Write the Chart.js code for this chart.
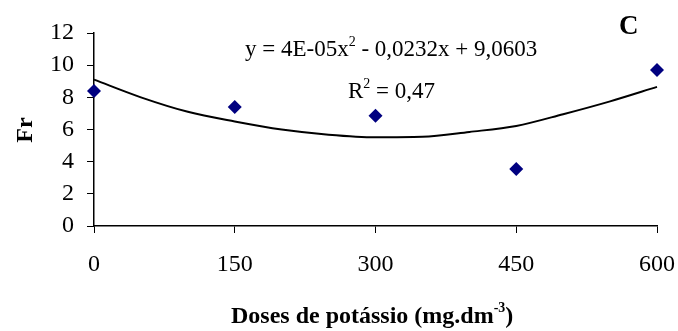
<!DOCTYPE html>
<html>
<head>
<meta charset="utf-8">
<script src="https://cdn.jsdelivr.net/npm/chart.js@4"></script>
<style>
  html, body { margin: 0; padding: 0; background: #fff; }
  #wrap { width: 678px; height: 331px; position: relative; }
</style>
</head>
<body>
<div id="wrap"><canvas id="c"></canvas></div>
<script>
// observed points
let doses = [0, 150, 300, 450, 600];
let frValues = [8.4, 7.4, 6.85, 3.55, 9.7];

// trend curve
let trendX = [0, 50, 100, 150, 200, 250, 300, 350, 400, 450, 500, 550, 600];
let trendY = [9.1, 8.0, 7.1, 6.5, 6.0, 5.68, 5.52, 5.55, 5.85, 6.22, 6.95, 7.75, 8.65];

let yTicks = [0, 2, 4, 6, 8, 10, 12];
let xTicks = [0, 150, 300, 450, 600];

const serif = "'Liberation Serif', 'Times New Roman', serif";

function toPoints(xs, ys) {
    return xs.map((x, i) => ({ x: x, y: ys[i] }));
}

// draws text pieces with superscripts
function drawRich(ctx, parts, x, y, size, bold) {
    let cx = x;
    parts.forEach(p => {
        let s = p.sup ? Math.round(size * 0.6) : size;
        ctx.font = (bold ? 'bold ' : '') + s + 'px ' + serif;
        ctx.fillText(p.t, cx, p.sup ? y - size * 0.45 : y);
        cx += ctx.measureText(p.t).width;
    });
}

const textPlugin = {
    id: 'texts',
    afterDraw(chart) {
        const ctx = chart.ctx;
        ctx.save();
        ctx.fillStyle = '#000';
        ctx.textBaseline = 'alphabetic';
        ctx.textAlign = 'left';

        drawRich(ctx, [
            { t: 'y = 4E-05x' }, { t: '2', sup: true }, { t: ' - 0,0232x + 9,0603' }
        ], 245, 56, 23, false);
        drawRich(ctx, [
            { t: 'R' }, { t: '2', sup: true }, { t: ' = 0,47' }
        ], 348, 98, 23, false);

        ctx.font = 'bold 27px ' + serif;
        ctx.fillText('C', 619, 34);

        drawRich(ctx, [
            { t: 'Doses de potássio (mg.dm' }, { t: '-3', sup: true }, { t: ')' }
        ], 231, 323, 24, true);

        ctx.translate(32, 130);
        ctx.rotate(-Math.PI / 2);
        ctx.textAlign = 'center';
        ctx.font = 'bold 24px ' + serif;
        ctx.fillText('Fr', 0, 0);
        ctx.restore();
    }
};

const ctx = document.getElementById('c');

new Chart(ctx, {
    type: 'scatter',
    data: {
        datasets: [{
            type: 'line',
            data: toPoints(trendX, trendY),
            borderColor: '#000',
            borderWidth: 2,
            pointRadius: 0,
            tension: 0.4,
            cubicInterpolationMode: 'monotone',
            fill: false
        }, {
            data: toPoints(doses, frValues),
            pointStyle: 'rectRot',
            pointRadius: 7,
            pointHoverRadius: 7,
            backgroundColor: '#000080',
            borderColor: '#000080',
            borderWidth: 0
        }]
    },
    options: {
        responsive: true,
        maintainAspectRatio: false,
        animation: false,
        clip: false,
        layout: { padding: { top: 33, right: 21, left: 0, bottom: 0 } },
        plugins: { legend: { display: false }, tooltip: { enabled: false } },
        scales: {
            x: {
                type: 'linear',
                min: 0,
                max: 600,
                afterBuildTicks: s => { s.ticks = xTicks.map(v => ({ value: v })); },
                afterFit: s => { s.height = 105; s.paddingLeft = 0; s.paddingRight = 0; },
                border: { display: true, color: '#000', width: 1.5 },
                grid: { display: true, drawOnChartArea: false, drawTicks: true, tickLength: 7, color: '#000', lineWidth: 1 },
                ticks: { color: '#000', padding: 17, font: { family: serif, size: 24 } }
            },
            y: {
                min: 0,
                max: 12,
                afterBuildTicks: s => { s.ticks = yTicks.map(v => ({ value: v })); },
                afterFit: s => { s.width = 94; s.paddingTop = 0; s.paddingBottom = 0; },
                border: { display: true, color: '#000', width: 1.5 },
                grid: { display: true, drawOnChartArea: false, drawTicks: true, tickLength: 7, color: '#000', lineWidth: 1 },
                ticks: { color: '#000', padding: 13, font: { family: serif, size: 24 } }
            }
        }
    },
    plugins: [textPlugin]
});
</script>
</body>
</html>
